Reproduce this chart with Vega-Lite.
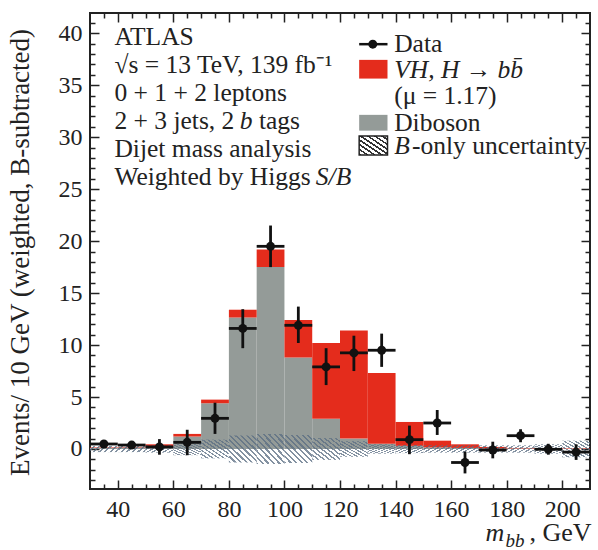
{
  "$schema": "https://vega.github.io/schema/vega-lite/v6.json",
  "width": 500,
  "height": 476,
  "autosize": "none",
  "padding": {"left": 90, "top": 13, "right": 8, "bottom": 61},
  "config": {
    "view": {"stroke": "#222", "strokeWidth": 2},
    "axis": {"domain": false, "grid": false, "tickColor": "#222", "tickWidth": 1.5, "labelFont": "Liberation Serif", "labelFontSize": 24, "labelColor": "#222", "titleFont": "Liberation Serif", "titleColor": "#222", "titleFontWeight": "normal"},
    "text": {"font": "Liberation Serif", "fontSize": 25.5, "color": "#222", "align": "left", "baseline": "middle"}
  },
  "datasets": {
    "bins": [
      {"x0": 30, "x1": 40, "dib": 0.1, "tot": 0.15},
      {"x0": 40, "x1": 50, "dib": 0.15, "tot": 0.2},
      {"x0": 50, "x1": 60, "dib": 0.25, "tot": 0.45},
      {"x0": 60, "x1": 70, "dib": 1.2, "tot": 1.45},
      {"x0": 70, "x1": 80, "dib": 4.4, "tot": 4.75},
      {"x0": 80, "x1": 90, "dib": 12.65, "tot": 13.4},
      {"x0": 90, "x1": 100, "dib": 17.5, "tot": 19.2},
      {"x0": 100, "x1": 110, "dib": 8.8, "tot": 12.4},
      {"x0": 110, "x1": 120, "dib": 2.9, "tot": 10.2},
      {"x0": 120, "x1": 130, "dib": 1.0, "tot": 11.4},
      {"x0": 130, "x1": 140, "dib": 0.5, "tot": 7.3},
      {"x0": 140, "x1": 150, "dib": 0.3, "tot": 2.6},
      {"x0": 150, "x1": 160, "dib": 0.15, "tot": 0.8},
      {"x0": 160, "x1": 170, "dib": 0.1, "tot": 0.45},
      {"x0": 170, "x1": 180, "dib": 0.05, "tot": 0.2},
      {"x0": 180, "x1": 190, "dib": 0.05, "tot": 0.1},
      {"x0": 190, "x1": 200, "dib": 0.0, "tot": 0.05},
      {"x0": 200, "x1": 210, "dib": 0.0, "tot": 0.05}
    ],
    "band": [
      {"x0": 30, "x1": 40, "lo": -0.3, "hi": 0.3},
      {"x0": 40, "x1": 50, "lo": -0.3, "hi": 0.3},
      {"x0": 50, "x1": 60, "lo": -0.35, "hi": 0.35},
      {"x0": 60, "x1": 70, "lo": -0.6, "hi": 0.6},
      {"x0": 70, "x1": 80, "lo": -0.9, "hi": 0.9},
      {"x0": 80, "x1": 90, "lo": -1.3, "hi": 1.3},
      {"x0": 90, "x1": 100, "lo": -1.45, "hi": 1.45},
      {"x0": 100, "x1": 110, "lo": -1.35, "hi": 1.35},
      {"x0": 110, "x1": 120, "lo": -1.05, "hi": 1.05},
      {"x0": 120, "x1": 130, "lo": -0.75, "hi": 0.75},
      {"x0": 130, "x1": 140, "lo": -0.45, "hi": 0.45},
      {"x0": 140, "x1": 150, "lo": -0.4, "hi": 0.4},
      {"x0": 150, "x1": 160, "lo": -0.35, "hi": 0.35},
      {"x0": 160, "x1": 170, "lo": -0.35, "hi": 0.35},
      {"x0": 170, "x1": 180, "lo": -0.35, "hi": 0.35},
      {"x0": 180, "x1": 190, "lo": -0.35, "hi": 0.35},
      {"x0": 190, "x1": 200, "lo": -0.45, "hi": 0.45},
      {"x0": 200, "x1": 210, "lo": -0.8, "hi": 0.8}
    ],
    "pts": [
      {"m": 35, "xl": 30, "xh": 40, "v": 0.48, "lo": 0.2, "hi": 0.76},
      {"m": 45, "xl": 40, "xh": 50, "v": 0.38, "lo": 0.1, "hi": 0.66},
      {"m": 55, "xl": 50, "xh": 60, "v": 0.2, "lo": -0.55, "hi": 0.95},
      {"m": 65, "xl": 60, "xh": 70, "v": 0.64, "lo": -0.6, "hi": 1.85},
      {"m": 75, "xl": 70, "xh": 80, "v": 2.95, "lo": 1.45, "hi": 4.45},
      {"m": 85, "xl": 80, "xh": 90, "v": 11.6, "lo": 9.7, "hi": 13.45},
      {"m": 95, "xl": 90, "xh": 100, "v": 19.5, "lo": 17.5, "hi": 21.5},
      {"m": 105, "xl": 100, "xh": 110, "v": 11.9, "lo": 10.2, "hi": 13.7},
      {"m": 115, "xl": 110, "xh": 120, "v": 7.9, "lo": 6.15, "hi": 9.7},
      {"m": 125, "xl": 120, "xh": 130, "v": 9.25, "lo": 7.5, "hi": 10.9},
      {"m": 135, "xl": 130, "xh": 140, "v": 9.5, "lo": 7.9, "hi": 11.1},
      {"m": 145, "xl": 140, "xh": 150, "v": 0.9, "lo": -0.5, "hi": 2.25},
      {"m": 155, "xl": 150, "xh": 160, "v": 2.5, "lo": 1.35, "hi": 3.75},
      {"m": 165, "xl": 160, "xh": 170, "v": -1.3, "lo": -2.35, "hi": -0.25},
      {"m": 175, "xl": 170, "xh": 180, "v": -0.1, "lo": -0.9, "hi": 0.7},
      {"m": 185, "xl": 180, "xh": 190, "v": 1.28, "lo": 0.65, "hi": 1.9},
      {"m": 195, "xl": 190, "xh": 200, "v": -0.03, "lo": -0.55, "hi": 0.5},
      {"m": 205, "xl": 200, "xh": 210, "v": -0.3, "lo": -1.05, "hi": 0.45}
    ],
    "textRegular": [
      {"x": 38.8, "y": 39.6, "t": "ATLAS"},
      {"x": 38.8, "y": 36.9, "t": "√s = 13 TeV, 139 fb⁻¹"},
      {"x": 38.8, "y": 34.3, "t": "0 + 1 + 2 leptons"},
      {"x": 38.8, "y": 31.6, "t": "2 + 3 jets, 2"},
      {"x": 90.8, "y": 31.6, "t": "tags"},
      {"x": 38.8, "y": 28.9, "t": "Dijet mass analysis"},
      {"x": 38.8, "y": 26.2, "t": "Weighted by Higgs"},
      {"x": 139.5, "y": 39.0, "t": "Data"},
      {"x": 139.5, "y": 34.0, "t": "(μ = 1.17)"},
      {"x": 139.5, "y": 31.4, "t": "Diboson"},
      {"x": 145.9, "y": 29.16, "t": "-only uncertainty"}
    ],
    "textItalic": [
      {"x": 83.9, "y": 31.6, "t": "b"},
      {"x": 111.3, "y": 26.2, "t": "S/B"},
      {"x": 139.5, "y": 36.5, "t": "VH, H → bb̄"},
      {"x": 139.5, "y": 29.16, "t": "B"}
    ]
  },
  "layer": [
    {
      "data": {"name": "bins"},
      "mark": {"type": "rect", "fill": "#949b98"},
      "encoding": {
        "x": {"field": "x0", "type": "quantitative", "scale": {"domain": [30, 210], "nice": false, "zero": false},
          "axis": {"orient": "bottom", "values": [40, 60, 80, 100, 120, 140, 160, 180, 200], "tickSize": -9, "labelPadding": 17, "labelFlush": false,
            "title": "m", "titleFontStyle": "italic", "titleFontSize": 26, "titleX": 395, "titleY": 51, "titleAlign": "left", "titleBaseline": "alphabetic", "titleAnchor": null}},
        "x2": {"field": "x1"},
        "y": {"field": "dib", "type": "quantitative", "scale": {"domain": [-3.85, 41.95], "nice": false, "zero": false},
          "axis": {"orient": "left", "values": [0, 5, 10, 15, 20, 25, 30, 35, 40], "tickSize": -9, "labelPadding": 17,
            "title": "Events/ 10 GeV (weighted, B-subtracted)", "titleFontSize": 27, "titleAngle": -90, "titleX": -70, "titleY": 239, "titleAlign": "center", "titleBaseline": "middle", "titleAnchor": null}},
        "y2": {"datum": 0}
      }
    },
    {
      "data": {"name": "bins"},
      "mark": {"type": "rect", "fill": "#e42c1c"},
      "encoding": {
        "x": {"field": "x0", "type": "quantitative",
          "axis": {"orient": "bottom", "values": [35, 45, 50, 55, 65, 70, 75, 85, 90, 95, 105, 110, 115, 125, 130, 135, 145, 150, 155, 165, 170, 175, 185, 190, 195, 205], "tickSize": -5, "labels": false,
            "title": "bb", "titleFontStyle": "italic", "titleFontSize": 19, "titleX": 415, "titleY": 57, "titleAlign": "left", "titleBaseline": "alphabetic", "titleAnchor": null}},
        "x2": {"field": "x1"},
        "y": {"field": "tot", "type": "quantitative",
          "axis": {"orient": "left", "values": [-3, -2, -1, 1, 2, 3, 4, 6, 7, 8, 9, 11, 12, 13, 14, 16, 17, 18, 19, 21, 22, 23, 24, 26, 27, 28, 29, 31, 32, 33, 34, 36, 37, 38, 39, 41], "tickSize": -5, "labels": false, "title": null}},
        "y2": {"field": "dib"}
      }
    },
    {
      "data": {"name": "band"},
      "mark": {"type": "rect", "opacity": 0.75, "fill": {"gradient": "linear", "x1": 0, "y1": 1, "x2": 1, "y2": 0, "stops": [
        {"offset": 0, "color": "#5a6d82"}, {"offset": 0.04, "color": "#5a6d82"}, {"offset": 0.04, "color": "rgba(255,255,255,0)"}, {"offset": 0.1, "color": "rgba(255,255,255,0)"},
        {"offset": 0.1, "color": "#5a6d82"}, {"offset": 0.14, "color": "#5a6d82"}, {"offset": 0.14, "color": "rgba(255,255,255,0)"}, {"offset": 0.2, "color": "rgba(255,255,255,0)"},
        {"offset": 0.2, "color": "#5a6d82"}, {"offset": 0.24, "color": "#5a6d82"}, {"offset": 0.24, "color": "rgba(255,255,255,0)"}, {"offset": 0.3, "color": "rgba(255,255,255,0)"},
        {"offset": 0.3, "color": "#5a6d82"}, {"offset": 0.34, "color": "#5a6d82"}, {"offset": 0.34, "color": "rgba(255,255,255,0)"}, {"offset": 0.4, "color": "rgba(255,255,255,0)"},
        {"offset": 0.4, "color": "#5a6d82"}, {"offset": 0.44, "color": "#5a6d82"}, {"offset": 0.44, "color": "rgba(255,255,255,0)"}, {"offset": 0.5, "color": "rgba(255,255,255,0)"},
        {"offset": 0.5, "color": "#5a6d82"}, {"offset": 0.54, "color": "#5a6d82"}, {"offset": 0.54, "color": "rgba(255,255,255,0)"}, {"offset": 0.6, "color": "rgba(255,255,255,0)"},
        {"offset": 0.6, "color": "#5a6d82"}, {"offset": 0.64, "color": "#5a6d82"}, {"offset": 0.64, "color": "rgba(255,255,255,0)"}, {"offset": 0.7, "color": "rgba(255,255,255,0)"},
        {"offset": 0.7, "color": "#5a6d82"}, {"offset": 0.74, "color": "#5a6d82"}, {"offset": 0.74, "color": "rgba(255,255,255,0)"}, {"offset": 0.8, "color": "rgba(255,255,255,0)"},
        {"offset": 0.8, "color": "#5a6d82"}, {"offset": 0.84, "color": "#5a6d82"}, {"offset": 0.84, "color": "rgba(255,255,255,0)"}, {"offset": 0.9, "color": "rgba(255,255,255,0)"},
        {"offset": 0.9, "color": "#5a6d82"}, {"offset": 0.94, "color": "#5a6d82"}, {"offset": 0.94, "color": "rgba(255,255,255,0)"}, {"offset": 1, "color": "rgba(255,255,255,0)"}
      ]}},
      "encoding": {
        "x": {"field": "x0", "type": "quantitative",
          "axis": {"orient": "top", "values": [40, 60, 80, 100, 120, 140, 160, 180, 200], "tickSize": -9, "labels": false, "title": null}},
        "x2": {"field": "x1"},
        "y": {"field": "lo", "type": "quantitative",
          "axis": {"orient": "right", "values": [0, 5, 10, 15, 20, 25, 30, 35, 40], "tickSize": -9, "labels": false, "title": null}},
        "y2": {"field": "hi"}
      }
    },
    {
      "data": {"name": "pts"},
      "mark": {"type": "rule", "color": "#111", "strokeWidth": 2.8},
      "encoding": {
        "x": {"field": "xl", "type": "quantitative",
          "axis": {"orient": "top", "values": [35, 45, 50, 55, 65, 70, 75, 85, 90, 95, 105, 110, 115, 125, 130, 135, 145, 150, 155, 165, 170, 175, 185, 190, 195, 205], "tickSize": -5, "labels": false, "title": null}},
        "x2": {"field": "xh"},
        "y": {"field": "v", "type": "quantitative",
          "axis": {"orient": "right", "values": [-3, -2, -1, 1, 2, 3, 4, 6, 7, 8, 9, 11, 12, 13, 14, 16, 17, 18, 19, 21, 22, 23, 24, 26, 27, 28, 29, 31, 32, 33, 34, 36, 37, 38, 39, 41], "tickSize": -5, "labels": false, "title": null}}
      }
    },
    {
      "data": {"name": "pts"},
      "mark": {"type": "rule", "color": "#111", "strokeWidth": 2.8},
      "encoding": {
        "x": {"field": "m", "type": "quantitative",
          "axis": {"orient": "bottom", "ticks": false, "labels": false, "title": ", GeV", "titleFontSize": 26, "titleX": 501, "titleY": 51, "titleAlign": "right", "titleBaseline": "alphabetic", "titleAnchor": null}},
        "y": {"field": "lo", "type": "quantitative", "axis": null},
        "y2": {"field": "hi"}
      }
    },
    {
      "data": {"name": "pts"},
      "mark": {"type": "point", "filled": true, "shape": "circle", "color": "#111", "opacity": 1, "size": 80},
      "encoding": {
        "x": {"field": "m", "type": "quantitative", "axis": null},
        "y": {"field": "v", "type": "quantitative", "axis": null}
      }
    },
    {
      "data": {"values": [{"x0": 126.9, "x1": 137.1, "y": 38.95}]},
      "mark": {"type": "rule", "color": "#111", "strokeWidth": 2.5},
      "encoding": {
        "x": {"field": "x0", "type": "quantitative", "axis": null},
        "x2": {"field": "x1"},
        "y": {"field": "y", "type": "quantitative", "axis": null}
      }
    },
    {
      "data": {"values": [{"x": 131.8, "y": 38.95}]},
      "mark": {"type": "point", "filled": true, "shape": "circle", "color": "#111", "opacity": 1, "size": 80},
      "encoding": {
        "x": {"field": "x", "type": "quantitative", "axis": null},
        "y": {"field": "y", "type": "quantitative", "axis": null}
      }
    },
    {
      "data": {"values": [{"x0": 126.9, "x1": 137.1, "y0": 35.64, "y1": 37.44}]},
      "mark": {"type": "rect", "fill": "#e42c1c"},
      "encoding": {
        "x": {"field": "x0", "type": "quantitative", "axis": null},
        "x2": {"field": "x1"},
        "y": {"field": "y0", "type": "quantitative", "axis": null},
        "y2": {"field": "y1"}
      }
    },
    {
      "data": {"values": [{"x0": 126.9, "x1": 137.1, "y0": 30.63, "y1": 32.15}]},
      "mark": {"type": "rect", "fill": "#949b98"},
      "encoding": {
        "x": {"field": "x0", "type": "quantitative", "axis": null},
        "x2": {"field": "x1"},
        "y": {"field": "y0", "type": "quantitative", "axis": null},
        "y2": {"field": "y1"}
      }
    },
    {
      "data": {"values": [{"x0": 126.9, "x1": 137.1, "y0": 28.29, "y1": 30.12}]},
      "mark": {"type": "rect", "stroke": "#222", "strokeWidth": 1.5, "fill": {"gradient": "linear", "x1": 0, "y1": 1, "x2": 1, "y2": 0, "stops": [
        {"offset": 0, "color": "#333"}, {"offset": 0.05, "color": "#333"}, {"offset": 0.05, "color": "#fff"}, {"offset": 0.125, "color": "#fff"},
        {"offset": 0.125, "color": "#333"}, {"offset": 0.175, "color": "#333"}, {"offset": 0.175, "color": "#fff"}, {"offset": 0.25, "color": "#fff"},
        {"offset": 0.25, "color": "#333"}, {"offset": 0.3, "color": "#333"}, {"offset": 0.3, "color": "#fff"}, {"offset": 0.375, "color": "#fff"},
        {"offset": 0.375, "color": "#333"}, {"offset": 0.425, "color": "#333"}, {"offset": 0.425, "color": "#fff"}, {"offset": 0.5, "color": "#fff"},
        {"offset": 0.5, "color": "#333"}, {"offset": 0.55, "color": "#333"}, {"offset": 0.55, "color": "#fff"}, {"offset": 0.625, "color": "#fff"},
        {"offset": 0.625, "color": "#333"}, {"offset": 0.675, "color": "#333"}, {"offset": 0.675, "color": "#fff"}, {"offset": 0.75, "color": "#fff"},
        {"offset": 0.75, "color": "#333"}, {"offset": 0.8, "color": "#333"}, {"offset": 0.8, "color": "#fff"}, {"offset": 0.875, "color": "#fff"},
        {"offset": 0.875, "color": "#333"}, {"offset": 0.925, "color": "#333"}, {"offset": 0.925, "color": "#fff"}, {"offset": 1, "color": "#fff"}
      ]}},
      "encoding": {
        "x": {"field": "x0", "type": "quantitative", "axis": null},
        "x2": {"field": "x1"},
        "y": {"field": "y0", "type": "quantitative", "axis": null},
        "y2": {"field": "y1"}
      }
    },
    {
      "data": {"name": "textRegular"},
      "mark": {"type": "text"},
      "encoding": {
        "x": {"field": "x", "type": "quantitative", "axis": null},
        "y": {"field": "y", "type": "quantitative", "axis": null},
        "text": {"field": "t"}
      }
    },
    {
      "data": {"name": "textItalic"},
      "mark": {"type": "text", "fontStyle": "italic"},
      "encoding": {
        "x": {"field": "x", "type": "quantitative", "axis": null},
        "y": {"field": "y", "type": "quantitative", "axis": null},
        "text": {"field": "t"}
      }
    }
  ],
  "resolve": {"axis": {"x": "independent", "y": "independent"}}
}
